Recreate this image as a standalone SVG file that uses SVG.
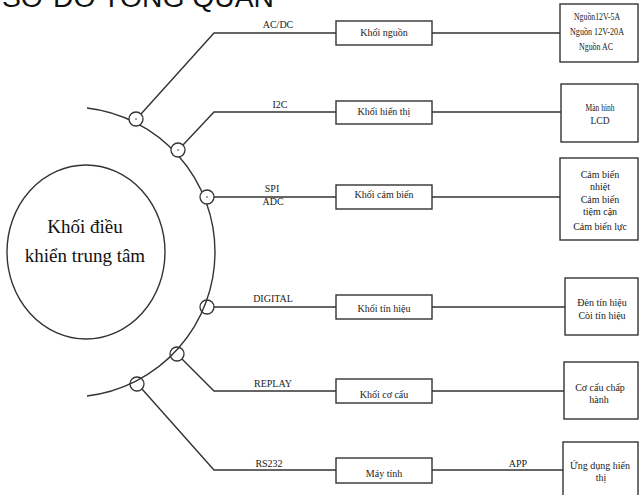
<svg xmlns="http://www.w3.org/2000/svg" width="640" height="495" viewBox="0 0 640 495">
<style>
.ln{fill:none;stroke:#333;stroke-width:1.4}
.bx{fill:#fff;stroke:#333;stroke-width:1.4}
.nd{fill:#fff;stroke:#333;stroke-width:1.3}
.nd2{fill:none;stroke:#333;stroke-width:1.3}
.t{font-family:"Liberation Serif","Times New Roman",serif;font-size:10px;fill:#222;text-anchor:middle}
.s{font-family:"Liberation Serif","Times New Roman",serif;font-size:10px;fill:#222;text-anchor:middle}
.big{font-family:"Liberation Serif","Times New Roman",serif;font-size:19px;fill:#111;text-anchor:middle}
</style>
<rect width="640" height="495" fill="#fff"/>
<text x="2" y="7" font-family="'Liberation Sans',Arial,sans-serif" font-size="28" fill="#111" textLength="272" lengthAdjust="spacingAndGlyphs">SƠ ĐỒ TỔNG QUAN</text>

<g id="connectors">
  <path class="ln" d="M87,108 A145,145 0 0 1 87,396"/>
  <polyline class="ln" points="141,114 214,33 336,33"/>
  <line class="ln" x1="432" y1="33" x2="560" y2="33"/>
  <polyline class="ln" points="183,145 214,112 336,112"/>
  <line class="ln" x1="432" y1="112" x2="561" y2="112"/>
  <line class="ln" x1="214" y1="197" x2="336" y2="197"/>
  <line class="ln" x1="432" y1="197" x2="560" y2="197"/>
  <line class="ln" x1="214" y1="307" x2="336" y2="307"/>
  <line class="ln" x1="432" y1="307" x2="565" y2="307"/>
  <polyline class="ln" points="182,359 214,391 336,391"/>
  <line class="ln" x1="432" y1="391" x2="564" y2="391"/>
  <polyline class="ln" points="142,389 214,470 336,470"/>
  <line class="ln" x1="432" y1="470" x2="563" y2="470"/>
  <text class="t" x="278" y="28">AC/DC</text>
  <text class="t" x="280" y="108">I2C</text>
  <text class="t" x="272" y="192">SPI</text>
  <text class="t" x="273" y="205">ADC</text>
  <text class="t" x="273" y="302">DIGITAL</text>
  <text class="t" x="273" y="387">REPLAY</text>
  <text class="t" x="269" y="467">RS232</text>
  <text class="t" x="518" y="467">APP</text>
</g>

<g id="center">
  <ellipse cx="86" cy="252" rx="79" ry="87" fill="none" stroke="#333" stroke-width="1.4"/>
  <text class="big" x="85" y="233">Khối điều</text>
  <text class="big" x="85" y="262">khiển trung tâm</text>
</g>

<g id="node-p1"><circle class="nd" cx="136" cy="119" r="7"/><circle cx="136" cy="119" r="0.8" fill="#333"/></g>
<g id="node-p2"><circle class="nd" cx="178" cy="150" r="7"/><circle cx="178" cy="150" r="0.8" fill="#333"/></g>
<g id="node-p3"><circle class="nd" cx="207" cy="197" r="7"/><circle cx="207" cy="197" r="0.8" fill="#333"/></g>
<g id="node-p4"><circle class="nd2" cx="207" cy="307" r="7"/></g>
<g id="node-p5"><circle class="nd2" cx="177" cy="354" r="7"/></g>
<g id="node-p6"><circle class="nd2" cx="137" cy="384" r="7"/></g>

<g id="khoi-nguon"><rect class="bx" x="336" y="21" width="96" height="24"/><text class="t" x="384" y="36">Khối nguồn</text></g>
<g id="khoi-hien-thi"><rect class="bx" x="336" y="101" width="96" height="23"/><text class="t" x="384" y="115">Khối hiển thị</text></g>
<g id="khoi-cam-bien"><rect class="bx" x="336" y="185" width="96" height="24"/><text class="t" x="384" y="198">Khối cảm biến</text></g>
<g id="khoi-tin-hieu"><rect class="bx" x="336" y="295" width="96" height="24"/><text class="t" x="384" y="312">Khối tín hiệu</text></g>
<g id="khoi-co-cau"><rect class="bx" x="336" y="379" width="96" height="24"/><text class="t" x="384" y="398">Khối cơ cấu</text></g>
<g id="may-tinh"><rect class="bx" x="336" y="458" width="96" height="25"/><text class="t" x="384" y="477">Máy tính</text></g>

<g id="nguon"><rect class="bx" x="560" y="4" width="78" height="58"/>
  <text class="s" x="597" y="20" textLength="46" lengthAdjust="spacingAndGlyphs">Nguồn12V-5A</text>
  <text class="s" x="597" y="35" textLength="54" lengthAdjust="spacingAndGlyphs">Nguồn 12V-20A</text>
  <text class="s" x="596" y="50" textLength="34" lengthAdjust="spacingAndGlyphs">Nguồn AC</text></g>
<g id="lcd"><rect class="bx" x="561" y="84" width="77" height="58"/>
  <text class="s" x="600" y="111" textLength="29" lengthAdjust="spacingAndGlyphs">Màn hình</text>
  <text class="s" x="600" y="124" textLength="19" lengthAdjust="spacingAndGlyphs">LCD</text></g>
<g id="cam-bien"><rect class="bx" x="560" y="158" width="78" height="82"/>
  <text class="t" x="600" y="178">Cảm biến</text>
  <text class="t" x="600" y="190">nhiệt</text>
  <text class="t" x="600" y="203">Cảm biến</text>
  <text class="t" x="600" y="215">tiệm cận</text>
  <text class="t" x="600" y="230">Cảm biến lực</text></g>
<g id="den-coi"><rect class="bx" x="565" y="278" width="73" height="57"/>
  <text class="t" x="602" y="306">Đèn tín hiệu</text>
  <text class="t" x="602" y="319">Còi tín hiệu</text></g>
<g id="chap-hanh"><rect class="bx" x="564" y="362" width="74" height="57"/>
  <text class="t" x="600" y="391">Cơ cấu chấp</text>
  <text class="t" x="599" y="403">hành</text></g>
<g id="ung-dung"><rect class="bx" x="563" y="442" width="75" height="60"/>
  <text class="t" x="600" y="469">Ứng dụng hiển</text>
  <text class="t" x="601" y="481">thị</text></g>
</svg>
